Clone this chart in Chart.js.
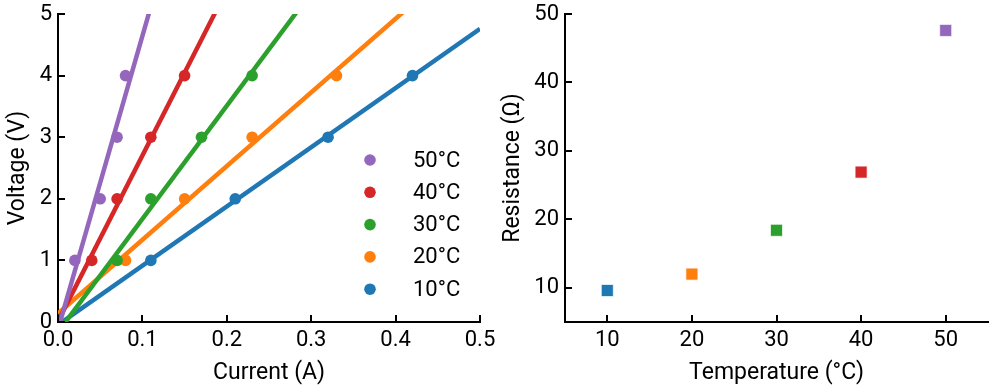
<!DOCTYPE html>
<html><head><meta charset="utf-8">
<script src="https://cdn.jsdelivr.net/npm/chart.js@4.4.1/dist/chart.umd.min.js"></script>
<style>
html,body{margin:0;padding:0;background:#fff;}
#wrap{position:relative;width:993px;height:390px;overflow:hidden;}
#c1{position:absolute;left:0;top:0;}
#c2{position:absolute;left:490px;top:0;}
</style></head><body>
<div id="wrap">
<canvas id="c1" width="530" height="390"></canvas>
<canvas id="c2" width="503" height="390"></canvas>
</div>
<script>
const temperatures = [10, 20, 30, 40, 50];
const seriesColors = ['#1f77b4', '#ff7f0e', '#2ca02c', '#d62728', '#9467bd'];
const voltages = [1, 2, 3, 4];
const current10 = [0.11, 0.21, 0.32, 0.42];
const current20 = [0.08, 0.15, 0.23, 0.33];
const current30 = [0.07, 0.11, 0.17, 0.23];
const current40 = [0.04, 0.07, 0.11, 0.15];
const current50 = [0.02, 0.05, 0.07, 0.08];
const resistance = [9.6, 12.0, 18.4, 26.9, 47.6];
const currentTicks = [0, 0.1, 0.2, 0.3, 0.4, 0.5];
const voltageTicks = [0, 1, 2, 3, 4, 5];
const temperatureTicks = [10, 20, 30, 40, 50];
const resistanceTicks = [10, 20, 30, 40, 50];

const currents = [current10, current20, current30, current40, current50];
const FONT = {family: 'Roboto', size: 22};
const TITLE_FONT = {family: 'Roboto', size: 23};

function fit(xs, ys) {
  const n = xs.length;
  const mx = xs.reduce((a, b) => a + b, 0) / n;
  const my = ys.reduce((a, b) => a + b, 0) / n;
  let sxy = 0, sxx = 0;
  for (let i = 0; i < n; i++) { sxy += (xs[i] - mx) * (ys[i] - my); sxx += (xs[i] - mx) ** 2; }
  const m = sxy / sxx;
  return {m, b: my - m * mx};
}

const inwardTicks = {
  id: 'inwardTicks',
  afterDraw(chart) {
    const {ctx, chartArea, scales: {x, y}} = chart;
    ctx.save();
    ctx.strokeStyle = '#000';
    ctx.lineWidth = 2;
    x.ticks.forEach(t => {
      const px = Math.round(x.getPixelForValue(t.value));
      ctx.beginPath(); ctx.moveTo(px, chartArea.bottom); ctx.lineTo(px, chartArea.bottom - 7); ctx.stroke();
    });
    y.ticks.forEach(t => {
      const py = Math.round(y.getPixelForValue(t.value));
      ctx.beginPath(); ctx.moveTo(chartArea.left, py); ctx.lineTo(chartArea.left + 7, py); ctx.stroke();
    });
    ctx.restore();
  }
};

const innerLegend = {
  id: 'innerLegend',
  afterDraw(chart) {
    const {ctx, chartArea} = chart;
    const items = chart.data.datasets.filter(d => d.legendItem).slice().reverse();
    ctx.save();
    ctx.font = '22px Roboto';
    ctx.textBaseline = 'middle';
    const x0 = chartArea.left + 312, y0 = chartArea.top + 146, dy = 32.3;
    items.forEach((d, i) => {
      const yy = y0 + i * dy;
      ctx.beginPath();
      ctx.fillStyle = d.backgroundColor;
      ctx.arc(x0, yy, 5.8, 0, Math.PI * 2);
      ctx.fill();
      ctx.fillStyle = '#000';
      ctx.fillText(d.label, x0 + 43, yy + 1);
    });
    ctx.restore();
  }
};

function noPad(s) { s.paddingTop = 0; s.paddingBottom = 0; s.paddingLeft = 0; s.paddingRight = 0; }

function axisCommon(tickVals, fmt, titleText, titlePad, pos) {
  return {
    type: 'linear',
    position: pos,
    grid: {display: false, drawTicks: false},
    border: {display: true, color: '#000', width: 2},
    afterBuildTicks: s => { s.ticks = tickVals.map(v => ({value: v})); },
    ticks: {font: FONT, color: '#000', padding: pos === 'bottom' ? 5 : 6, callback: fmt, maxRotation: 0, autoSkip: false},
    title: {display: true, text: titleText, font: TITLE_FONT, color: '#000', padding: titlePad}
  };
}

const leftDatasets = [];
temperatures.forEach((t, i) => {
  const f = fit(currents[i], voltages);
  const xa = currentTicks[0], xb = currentTicks[currentTicks.length - 1];
  leftDatasets.push({
    type: 'line', label: t + '°C fit',
    data: [{x: xa, y: f.m * xa + f.b}, {x: xb, y: f.m * xb + f.b}],
    borderColor: seriesColors[i], borderWidth: 4.5, pointRadius: 0, fill: false,
    order: 20 - i
  });
  leftDatasets.push({
    type: 'scatter', label: t + '°C', legendItem: true,
    data: currents[i].map((c, k) => ({x: c, y: voltages[k]})),
    backgroundColor: seriesColors[i], borderColor: seriesColors[i],
    pointRadius: 5.8, pointBorderWidth: 0,
    order: 10 - i
  });
});

new Chart(document.getElementById('c1'), {
  type: 'scatter',
  data: {datasets: leftDatasets},
  options: {
    responsive: false, animation: false,
    layout: {autoPadding: false, padding: {top: 14, right: 50, left: 0, bottom: 0}},
    plugins: {legend: {display: false}, tooltip: {enabled: false}},
    scales: {
      x: Object.assign(axisCommon(currentTicks, v => Number(v).toFixed(1), 'Current (A)', {bottom: 3, top: 0}, 'bottom'),
        {min: 0, max: 0.5, afterFit: s => { s.height = 68; noPad(s); }}),
      y: Object.assign(axisCommon(voltageTicks, v => String(v), 'Voltage (V)', {top: 4, bottom: 0}, 'left'),
        {min: 0, max: 5, afterFit: s => { s.width = 58; noPad(s); }})
    }
  },
  plugins: [inwardTicks, innerLegend]
});

new Chart(document.getElementById('c2'), {
  type: 'scatter',
  data: {datasets: [{
    label: 'Resistance',
    data: temperatures.map((t, i) => ({x: t, y: resistance[i]})),
    pointStyle: 'rect', pointRadius: 8.5,
    backgroundColor: seriesColors, borderColor: 'rgba(255,255,255,0.7)', pointBorderWidth: 1
  }]},
  options: {
    responsive: false, animation: false,
    layout: {autoPadding: false, padding: {top: 14, right: 5, left: 0, bottom: 0}},
    plugins: {legend: {display: false}, tooltip: {enabled: false}},
    scales: {
      x: Object.assign(axisCommon(temperatureTicks, v => String(v), 'Temperature (°C)', {bottom: 3, top: 0}, 'bottom'),
        {min: 5, max: 55, afterFit: s => { s.height = 68; noPad(s); }}),
      y: Object.assign(axisCommon(resistanceTicks, v => String(v), 'Resistance (Ω)', {top: 9, bottom: 0}, 'left'),
        {min: 5, max: 50, afterFit: s => { s.width = 75; noPad(s); }})
    }
  },
  plugins: [inwardTicks]
});
</script>
</body></html>
